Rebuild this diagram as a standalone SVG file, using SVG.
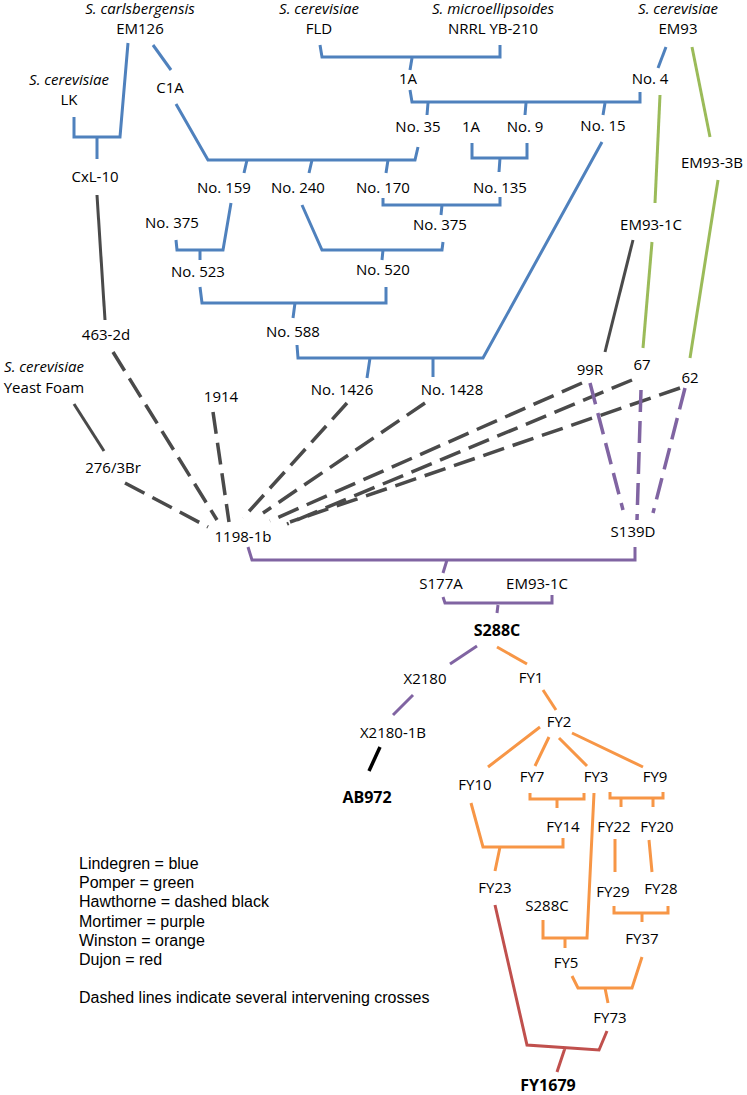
<svg xmlns="http://www.w3.org/2000/svg" width="747" height="1095" viewBox="0 0 747 1095">
<style>
text{font-family:"Open Sans","Noto Sans",sans-serif;font-size:15px;fill:#000;text-anchor:middle}
.i{font-style:italic}
.b{font-weight:bold;font-size:16px}
.leg{font-family:"Liberation Sans",Arial,sans-serif;font-size:16px;text-anchor:start}
path{fill:none;stroke-width:3}
.bl{stroke:#4f81bd}
.gr{stroke:#9bbb59}
.dk{stroke:#4a4a4a}
.ds{stroke-dasharray:22 9;stroke-width:3.5}
.pu{stroke:#8064a2}
.or{stroke:#f79646}
.rd{stroke:#c0504d}
.k{stroke:#000;stroke-width:3.5}
</style>
<rect width="747" height="1095" fill="#fff"/>
<g id="connectors">
<path class="bl" d="M74,117 V137 H120 L128,43"/>
<path class="bl" d="M97,137 V159"/>
<path class="bl" d="M153,45 L171,70"/>
<path class="bl" d="M176,104 L208,160 H415 L418,147"/>
<path class="bl" d="M247,160 L244,173 M312,160 L309,173 M388,160 L386,173"/>
<path class="bl" d="M320,45 L322,57 H500 V45"/>
<path class="bl" d="M412,58 L410,70"/>
<path class="bl" d="M410,90 L412,102 H640 V92"/>
<path class="bl" d="M428,103 L427,115 M526,103 L525,115 M605,103 L603,115"/>
<path class="bl" d="M666,47 L658,68"/>
<path class="bl" d="M472,143 V158 H527 V143 M500,158 L499,172"/>
<path class="bl" d="M383,198 V205 H500 V197 M442,205 L441,215"/>
<path class="bl" d="M176,240 L177,250 H223 L231,203 M200,250 V260"/>
<path class="bl" d="M302,205 L322,250 H442 L443,242 M383,250 L382,260"/>
<path class="bl" d="M200,287 L202,303 H386 V287 M295,303 L293,318"/>
<path class="bl" d="M297,345 L298,358 H483 L602,142 M370,358 L367,378 M433,358 V377"/>
<path class="gr" d="M692,47 L710,137"/>
<path class="gr" d="M718,180 L690,358"/>
<path class="gr" d="M660,95 L655,203"/>
<path class="gr" d="M652,242 L643,348"/>
<path class="dk" d="M97,195 L105,320"/>
<path class="dk" d="M74,404 L104,451"/>
<path class="dk" d="M633,240 L605,352"/>
<path class="dk ds" d="M113,352 L217,520"/>
<path class="dk ds" d="M125,483 L208,527"/>
<path class="dk ds" d="M213,412 L229,522"/>
<path class="dk ds" d="M347,403 L243,518"/>
<path class="dk ds" d="M425,403 L263,513"/>
<path class="dk ds" d="M582,383 L270,521"/>
<path class="dk ds" d="M632,380 L287,524"/>
<path class="dk ds" d="M680,388 L290,522"/>
<path class="pu ds" d="M590,383 L623,510"/>
<path class="pu ds" d="M641,390 L637,520"/>
<path class="pu ds" d="M685,388 L653,513"/>
<path class="pu" d="M248,547 L252,560 H635 V547 M447,560 L443,573"/>
<path class="pu" d="M443,597 L445,603 H552 V595 M498,605 L497,613"/>
<path class="pu" d="M477,646 L450,664"/>
<path class="pu" d="M413,695 L393,715"/>
<path class="k" d="M380,747 L369,771"/>
<path class="or" d="M497,647 L527,664"/>
<path class="or" d="M543,690 L556,710"/>
<path class="or" d="M540,727 L488,767 M549,737 L535,766 M559,738 L587,766 M572,733 L643,767"/>
<path class="or" d="M530,793 V799 H584 V793 M557,799 V808"/>
<path class="or" d="M610,792 V798 H663 V792 M621,798 V807 M653,798 V807"/>
<path class="or" d="M594,793 L587,938 H543 V920 M565,938 V948"/>
<path class="or" d="M471,803 L483,847 H563 V838 M500,847 L495,871"/>
<path class="or" d="M615,839 V872 M649,840 L652,872"/>
<path class="or" d="M614,906 V913 H668 V906 M642,913 V922"/>
<path class="or" d="M572,976 L578,988 H632 L642,957 M605,988 L608,1003"/>
<path class="rd" d="M495,905 L527,1045 L599,1050 L607,1031 M565,1048 L557,1072"/>
</g>
<g id="n-em126"><text class="i" x="140" y="14">S. carlsbergensis</text><text x="140" y="34">EM126</text></g>
<g id="n-fld"><text class="i" x="319" y="14">S. cerevisiae</text><text x="319" y="34">FLD</text></g>
<g id="n-nrrl"><text class="i" x="493" y="14">S. microellipsoides</text><text x="493" y="34">NRRL YB-210</text></g>
<g id="n-em93"><text class="i" x="678" y="14">S. cerevisiae</text><text x="678" y="34">EM93</text></g>
<g id="n-lk"><text class="i" x="69" y="85">S. cerevisiae</text><text x="69" y="105">LK</text></g>
<g id="n-c1a"><text x="170" y="93">C1A</text></g>
<g id="n-1a"><text x="408" y="84">1A</text></g>
<g id="n-no4"><text x="650" y="84">No. 4</text></g>
<g id="n-no35"><text x="418" y="132">No. 35</text></g>
<g id="n-1a-2"><text x="471" y="132">1A</text></g>
<g id="n-no9"><text x="525" y="132">No. 9</text></g>
<g id="n-no15"><text x="603" y="131">No. 15</text></g>
<g id="n-em93-3b"><text x="712" y="168">EM93-3B</text></g>
<g id="n-cxl10"><text x="95" y="182">CxL-10</text></g>
<g id="n-no159"><text x="224" y="193">No. 159</text></g>
<g id="n-no240"><text x="298" y="193">No. 240</text></g>
<g id="n-no170"><text x="383" y="193">No. 170</text></g>
<g id="n-no135"><text x="500" y="193">No. 135</text></g>
<g id="n-no375a"><text x="172" y="228">No. 375</text></g>
<g id="n-no375b"><text x="440" y="230">No. 375</text></g>
<g id="n-em93-1c"><text x="651" y="230">EM93-1C</text></g>
<g id="n-no523"><text x="198" y="277">No. 523</text></g>
<g id="n-no520"><text x="383" y="275">No. 520</text></g>
<g id="n-no588"><text x="293" y="337">No. 588</text></g>
<g id="n-463-2d"><text x="106" y="340">463-2d</text></g>
<g id="n-yeastfoam"><text class="i" x="44" y="372">S. cerevisiae</text><text x="44" y="393">Yeast Foam</text></g>
<g id="n-99r"><text x="590" y="375">99R</text></g>
<g id="n-67"><text x="642" y="370">67</text></g>
<g id="n-62"><text x="690" y="383">62</text></g>
<g id="n-no1426"><text x="342" y="395">No. 1426</text></g>
<g id="n-no1428"><text x="452" y="395">No. 1428</text></g>
<g id="n-1914"><text x="221" y="402">1914</text></g>
<g id="n-276-3br"><text x="113" y="473">276/3Br</text></g>
<g id="n-1198-1b"><text x="243" y="542">1198-1b</text></g>
<g id="n-s139d"><text x="633" y="537">S139D</text></g>
<g id="n-s177a"><text x="441" y="589">S177A</text></g>
<g id="n-em93-1c-b"><text x="537" y="589">EM93-1C</text></g>
<g id="n-s288c"><text class="b" x="497" y="636">S288C</text></g>
<g id="n-x2180"><text x="425" y="684">X2180</text></g>
<g id="n-fy1"><text x="531" y="683">FY1</text></g>
<g id="n-fy2"><text x="559" y="727">FY2</text></g>
<g id="n-x2180-1b"><text x="393" y="738">X2180-1B</text></g>
<g id="n-fy10"><text x="475" y="790">FY10</text></g>
<g id="n-fy7"><text x="532" y="782">FY7</text></g>
<g id="n-fy3"><text x="596" y="782">FY3</text></g>
<g id="n-fy9"><text x="655" y="782">FY9</text></g>
<g id="n-ab972"><text class="b" x="367" y="803">AB972</text></g>
<g id="n-fy14"><text x="563" y="832">FY14</text></g>
<g id="n-fy22"><text x="614" y="832">FY22</text></g>
<g id="n-fy20"><text x="657" y="832">FY20</text></g>
<g id="n-fy23"><text x="495" y="893">FY23</text></g>
<g id="n-fy29"><text x="613" y="897">FY29</text></g>
<g id="n-fy28"><text x="661" y="894">FY28</text></g>
<g id="n-s288c-2"><text x="547" y="911">S288C</text></g>
<g id="n-fy37"><text x="642" y="944">FY37</text></g>
<g id="n-fy5"><text x="566" y="968">FY5</text></g>
<g id="n-fy73"><text x="610" y="1023">FY73</text></g>
<g id="n-fy1679"><text class="b" x="548" y="1091">FY1679</text></g>
<g id="legend">
<text class="leg" x="79" y="869">Lindegren = blue</text>
<text class="leg" x="79" y="888">Pomper = green</text>
<text class="leg" x="79" y="907">Hawthorne = dashed black</text>
<text class="leg" x="79" y="927">Mortimer = purple</text>
<text class="leg" x="79" y="946">Winston = orange</text>
<text class="leg" x="79" y="965">Dujon = red</text>
<text class="leg" x="79" y="1003">Dashed lines indicate several intervening crosses</text>
</g>
</svg>
